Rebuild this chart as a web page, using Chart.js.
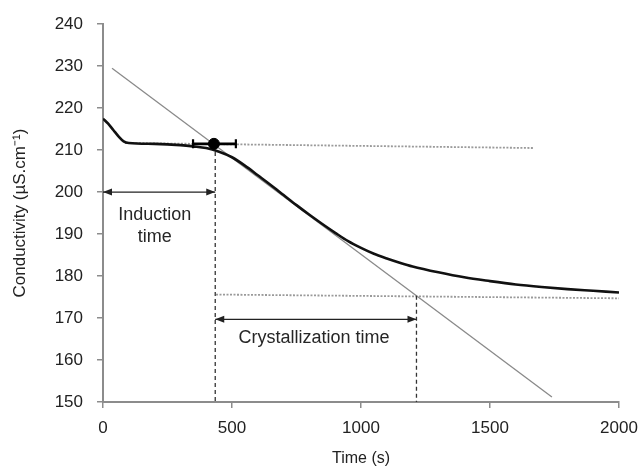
<!DOCTYPE html>
<html><head><meta charset="utf-8">
<script src="https://cdn.jsdelivr.net/npm/chart.js@4/dist/chart.umd.min.js"></script>
<style>html,body{margin:0;padding:0;background:#fff}</style>
</head><body>
<canvas id="c" width="640" height="470"></canvas>
<script>
// Main conductivity curve
const timeS = [0, 20, 40, 60, 80, 100, 200, 300, 350, 400, 450, 500, 550, 600, 650, 700, 750, 800, 850, 900, 950, 1000, 1050, 1100, 1150, 1200, 1300, 1400, 1500, 1600, 1700, 1800, 1900, 2000];
const conductivity = [217.5, 216.3, 214.8, 213.3, 212.1, 211.7, 211.5, 211.2, 210.9, 210.5, 209.6, 208.3, 206.3, 204.0, 201.7, 199.3, 196.9, 194.6, 192.4, 190.3, 188.3, 186.7, 185.3, 184.2, 183.2, 182.3, 180.9, 179.7, 178.8, 178.0, 177.4, 176.9, 176.5, 176.1];
// Construction lines
const tangentT = [35, 1740];
const tangentY = [229.5, 151.2];
const plateauT = [85, 1671];
const plateauY = [211.7, 210.5];
const finalT = [438, 2000];
const finalY = [175.6, 174.7];
const inductionEndT = 435;
const inductionTopY = 211.2;
const crystEndT = 1215;
const crystTopY = 175.3;
const axisMinY = 150;
// Onset point with horizontal error bar
const onsetT = [349, 430, 515];
const onsetY = [211.5, 211.5, 211.5];
// Arrows
const inductionArrowY = 200;
const crystArrowY = 169.7;
// Axes
const xMin = 0, xMax = 2000, xStep = 500;
const yMin = 150, yMax = 240, yStep = 10;
// Annotation texts
const noteTexts = ['Induction', 'time', 'Crystallization time'];
const noteX = [201, 201, 818];
const noteY = [194.5, 189.2, 165.2];

const pts = (xs, ys) => xs.map((x, i) => ({x, y: ys[i]}));

const arrowPlugin = {
  id: 'arrows',
  afterDatasetsDraw(chart) {
    const ctx = chart.ctx;
    chart.data.datasets.forEach((ds, i) => {
      if (!ds.arrowEnds) return;
      const meta = chart.getDatasetMeta(i);
      const a = meta.data[0], b = meta.data[meta.data.length - 1];
      const head = (tip, from) => {
        const ang = Math.atan2(tip.y - from.y, tip.x - from.x);
        const L = 9, W = 3.5;
        ctx.save();
        ctx.translate(tip.x, tip.y);
        ctx.rotate(ang);
        ctx.beginPath();
        ctx.moveTo(0, 0);
        ctx.lineTo(-L, -W);
        ctx.lineTo(-L, W);
        ctx.closePath();
        ctx.fillStyle = ds.borderColor;
        ctx.fill();
        ctx.restore();
      };
      head(a, b);
      head(b, a);
    });
  }
};

const textPlugin = {
  id: 'notes',
  afterDatasetsDraw(chart) {
    const ctx = chart.ctx;
    const xs = chart.scales.x, ys = chart.scales.y;
    ctx.save();
    ctx.font = '18px "Liberation Sans", Arial, sans-serif';
    ctx.fillStyle = '#262626';
    ctx.textAlign = 'center';
    ctx.textBaseline = 'middle';
    noteTexts.forEach((t, i) => {
      ctx.fillText(t, xs.getPixelForValue(noteX[i]), ys.getPixelForValue(noteY[i]));
    });
    ctx.restore();
  }
};

const gray = '#8c8c8c';
const font = {family: '"Liberation Sans", Arial, sans-serif', size: 17};

new Chart(document.getElementById('c'), {
  type: 'scatter',
  data: {
    datasets: [
      {data: pts(onsetT, onsetY), showLine: true, borderColor: '#000', backgroundColor: '#000', borderWidth: 2.6,
        pointStyle: ['line', 'circle', 'line'], pointRotation: [90, 0, 90], pointRadius: [4.5, 5.5, 4.5], pointBorderWidth: [2.2, 1, 2.2]},
      {data: pts(timeS, conductivity), showLine: true, borderColor: '#111', borderWidth: 2.6, pointRadius: 0, cubicInterpolationMode: 'monotone'},
      {data: pts([xMin, inductionEndT], [inductionArrowY, inductionArrowY]), showLine: true, borderColor: '#222', borderWidth: 1.3, pointRadius: 0, arrowEnds: true},
      {data: pts([inductionEndT, crystEndT], [crystArrowY, crystArrowY]), showLine: true, borderColor: '#222', borderWidth: 1.3, pointRadius: 0, arrowEnds: true},
      {data: pts([inductionEndT, inductionEndT], [inductionTopY, axisMinY]), showLine: true, borderColor: '#333', borderWidth: 1.3, borderDash: [4, 3], pointRadius: 0},
      {data: pts([crystEndT, crystEndT], [crystTopY, axisMinY]), showLine: true, borderColor: '#333', borderWidth: 1.3, borderDash: [4, 3], pointRadius: 0},
      {data: pts(plateauT, plateauY), showLine: true, borderColor: '#9a9a9a', borderWidth: 1.8, borderDash: [2, 1.5], pointRadius: 0},
      {data: pts(finalT, finalY), showLine: true, borderColor: '#9a9a9a', borderWidth: 1.8, borderDash: [2, 1.5], pointRadius: 0},
      {data: pts(tangentT, tangentY), showLine: true, borderColor: '#8a8a8a', borderWidth: 1.3, pointRadius: 0}
    ]
  },
  options: {
    responsive: false,
    animation: false,
    events: [],
    layout: {padding: {top: 23, right: 21, left: 0, bottom: 0}},
    plugins: {legend: {display: false}, tooltip: {enabled: false}},
    scales: {
      x: {
        type: 'linear', min: xMin, max: xMax,
        ticks: {stepSize: xStep, color: '#222', font, padding: 10, maxRotation: 0, callback: v => String(v)},
        grid: {drawOnChartArea: false, drawTicks: true, tickLength: 6, color: gray, lineWidth: 1.5},
        border: {display: true, color: gray, width: 2},
        title: {display: true, text: 'Time (s)', color: '#222', font: {family: font.family, size: 16}, padding: {top: 4, bottom: 2}},
        afterFit(s) { s.height = 68; s.paddingRight = 0; s.paddingLeft = 0; }
      },
      y: {
        type: 'linear', min: yMin, max: yMax,
        ticks: {stepSize: yStep, color: '#222', font, padding: 14, callback: v => String(v)},
        grid: {drawOnChartArea: false, drawTicks: true, tickLength: 6, color: gray, lineWidth: 1.5},
        border: {display: true, color: gray, width: 2},
        title: {display: true, text: 'Conductivity (µS.cm⁻¹)', color: '#222', font: {family: font.family, size: 17}, padding: {top: 10, bottom: 0}},
        afterFit(s) { s.width = 103; }
      }
    }
  },
  plugins: [arrowPlugin, textPlugin]
});
</script>
</body></html>
